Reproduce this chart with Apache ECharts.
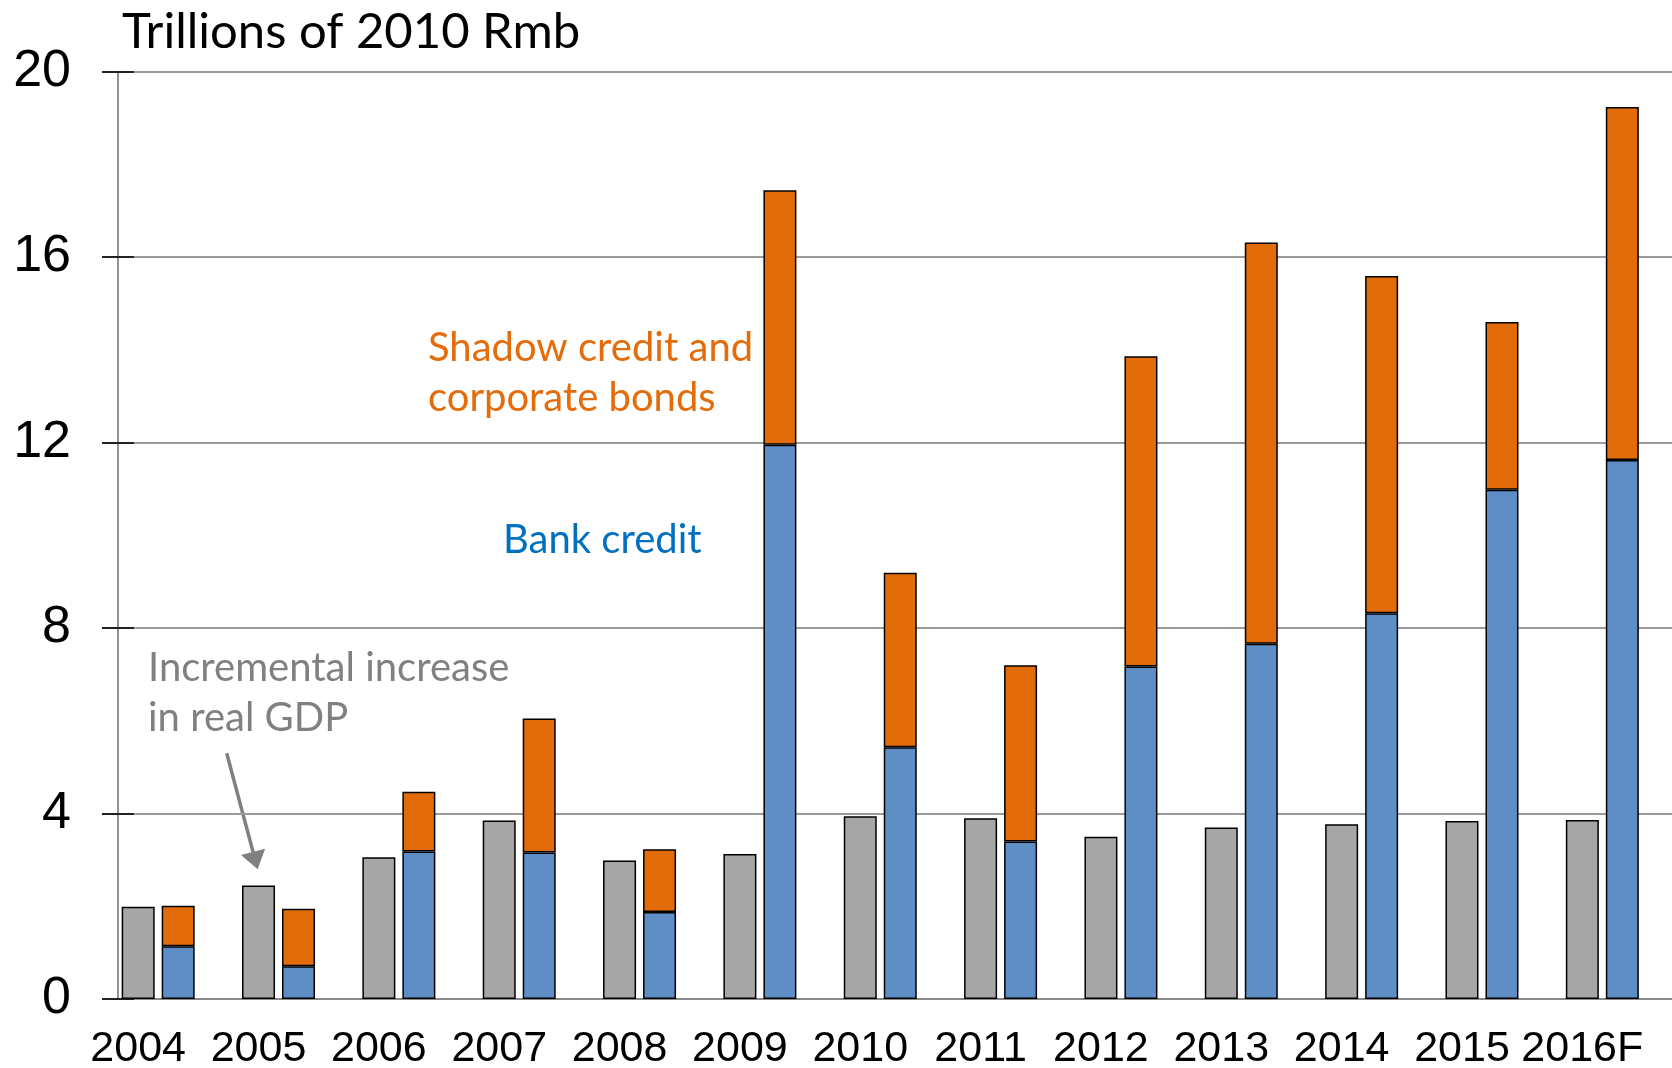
<!DOCTYPE html>
<html>
<head>
<meta charset="utf-8">
<script src="https://cdn.jsdelivr.net/npm/echarts/dist/echarts.min.js"></script>
<style>
  html, body { margin: 0; padding: 0; background: #ffffff; }
  #chart { width: 1672px; height: 1068px; }
</style>
</head>
<body>
<div id="chart"></div>
<script>
// Years on the category axis
const years = ['2004', '2005', '2006', '2007', '2008', '2009', '2010', '2011', '2012', '2013', '2014', '2015', '2016F'];

// Incremental increase in real GDP (trillions of 2010 Rmb)
const realGdpIncrease = [1.99, 2.45, 3.06, 3.85, 2.99, 3.13, 3.94, 3.90, 3.50, 3.70, 3.77, 3.84, 3.86];

// New bank credit (trillions of 2010 Rmb)
const bankCredit = [1.14, 0.71, 3.18, 3.16, 1.88, 11.95, 5.43, 3.40, 7.17, 7.66, 8.32, 10.98, 11.62];

// New shadow credit and corporate bonds, stacked on top of bank credit
const shadowCredit = [0.87, 1.24, 1.29, 2.89, 1.35, 5.49, 3.76, 3.80, 6.69, 8.65, 7.27, 3.62, 7.61];

// Value axis ticks
const yTickValues = [0, 4, 8, 12, 16, 20];

const TEXT_FONT = 'Lato, "Open Sans", sans-serif';
const AXIS_FONT = '"Liberation Sans", Arial, sans-serif';

const chart = echarts.init(document.getElementById('chart'), null, { renderer: 'canvas' });

const barBorder = { borderColor: '#000000', borderWidth: 1.5 };

const option = {
  backgroundColor: '#ffffff',
  animation: false,
  grid: {
    left: 118,
    top: 71.4,
    width: 1564.5,
    height: 927.7,
    containLabel: false,
    outerBoundsMode: 'none'
  },
  xAxis: {
    type: 'category',
    data: years,
    boundaryGap: true,
    axisLine: { show: true, lineStyle: { color: '#8a8a8a', width: 2 } },
    axisTick: { show: false },
    splitLine: { show: false },
    axisLabel: {
      interval: 0,
      color: '#000000',
      fontFamily: AXIS_FONT,
      fontSize: 43,
      margin: 29,
      padding: [0, 80, 0, 0]
    }
  },
  yAxis: [
    {
      type: 'value',
      min: yTickValues[0],
      max: yTickValues[yTickValues.length - 1],
      interval: yTickValues[1] - yTickValues[0],
      axisLine: { show: true, lineStyle: { color: '#6e6e6e', width: 1.5 } },
      axisTick: { show: true, inside: false, length: 16, lineStyle: { color: '#222222', width: 2 } },
      splitLine: { show: true, lineStyle: { color: '#9a9a9a', width: 1.8 } },
      axisLabel: {
        color: '#000000',
        fontFamily: AXIS_FONT,
        fontSize: 52,
        margin: 47
      }
    },
    {
      // inner half of the crossing ticks
      type: 'value',
      position: 'left',
      min: yTickValues[0],
      max: yTickValues[yTickValues.length - 1],
      interval: yTickValues[1] - yTickValues[0],
      axisLine: { show: false },
      axisTick: { show: true, inside: true, length: 16, lineStyle: { color: '#222222', width: 2 } },
      splitLine: { show: false },
      axisLabel: { show: false }
    }
  ],
  series: [
    {
      name: 'Incremental increase in real GDP',
      type: 'bar',
      yAxisIndex: 0,
      data: realGdpIncrease,
      barWidth: 33,
      barGap: '21.2%',
      itemStyle: Object.assign({ color: '#a6a6a6' }, barBorder)
    },
    {
      name: 'Bank credit',
      type: 'bar',
      yAxisIndex: 0,
      stack: 'credit',
      data: bankCredit,
      barWidth: 33,
      barGap: '21.2%',
      itemStyle: Object.assign({ color: '#5f8dc6' }, barBorder)
    },
    {
      name: 'Shadow credit and corporate bonds',
      type: 'bar',
      yAxisIndex: 0,
      stack: 'credit',
      data: shadowCredit,
      barWidth: 33,
      barGap: '21.2%',
      itemStyle: Object.assign({ color: '#e36c0a' }, barBorder)
    },
    {
      // empty slot that keeps each pair of bars left of the band centre
      name: 'spacer',
      type: 'bar',
      yAxisIndex: 0,
      data: years.map(() => null),
      barWidth: 33,
      barGap: '21.2%',
      silent: true,
      itemStyle: { color: 'transparent' }
    }
  ],
  graphic: [
    {
      type: 'text', left: 122, top: 8,
      style: { text: 'Trillions of 2010 Rmb', fill: '#000000', font: '49px ' + TEXT_FONT }
    },
    {
      type: 'text', left: 428, top: 328,
      style: { text: 'Shadow credit and', fill: '#e46c0a', font: '40px ' + TEXT_FONT }
    },
    {
      type: 'text', left: 428, top: 378,
      style: { text: 'corporate bonds', fill: '#e46c0a', font: '40px ' + TEXT_FONT }
    },
    {
      type: 'text', left: 503, top: 520,
      style: { text: 'Bank credit', fill: '#0070c0', font: '40px ' + TEXT_FONT }
    },
    {
      type: 'text', left: 148, top: 648,
      style: { text: 'Incremental increase', fill: '#808080', font: '40px ' + TEXT_FONT }
    },
    {
      type: 'text', left: 148, top: 698,
      style: { text: 'in real GDP', fill: '#808080', font: '40px ' + TEXT_FONT }
    },
    {
      type: 'line',
      shape: { x1: 226.7, y1: 753.3, x2: 253.2, y2: 852.5 },
      style: { stroke: '#808080', lineWidth: 3.5 }
    },
    {
      type: 'polygon',
      shape: { points: [[257.7, 869.3], [265.1, 848.7], [241.0, 855.1]] },
      style: { fill: '#808080' }
    }
  ]
};

chart.setOption(option);
</script>
</body>
</html>
